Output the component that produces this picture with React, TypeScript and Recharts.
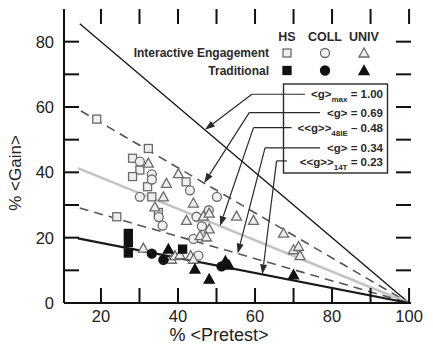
import React from 'react';
import { ComposedChart, XAxis, YAxis, Line, Scatter, ReferenceLine } from 'recharts';

const W = 433;
const H = 347;
const FONT = 'Arial, "Liberation Sans", sans-serif';

// plot frame inside the chart, from the margins and axis sizes below
const PLOT = { left: 64, top: 9, right: 411, bottom: 303 };
const TICK_LEN = 15;

const pretestTicks = [20, 30, 40, 50, 60, 70, 80, 90, 100];
const gainTicks = [0, 10, 20, 30, 40, 50, 60, 70, 80];
const pretestLabels = [20, 40, 60, 80, 100];
const gainLabels = [0, 20, 40, 60, 80];
const preDomain = [10.4, 100.5];
const gainDomain = [0, 90];

// normalized gain lines <g> and where each one starts on the left
const gValues = [1.0, 0.69, 0.48, 0.34, 0.23];
const gStartPre = [14.5, 14.8, 14, 14.5, 14];

// interactive engagement (open symbols)
const hsIE = [
  { pre: 18.9, gain: 56.3 }, { pre: 32.3, gain: 47.3 }, { pre: 28.2, gain: 44.3 },
  { pre: 30.1, gain: 40.7 }, { pre: 28.2, gain: 38.7 }, { pre: 32.1, gain: 35.6 },
  { pre: 33.2, gain: 32.5 }, { pre: 42.1, gain: 37.1 }, { pre: 24.1, gain: 26.4 },
  { pre: 34.9, gain: 27.7 },
];
const collIE = [
  { pre: 30.1, gain: 43.3 }, { pre: 33.2, gain: 39.4 }, { pre: 33.2, gain: 37.8 },
  { pre: 30.1, gain: 32.5 }, { pre: 43.1, gain: 34.5 }, { pre: 50.1, gain: 32.5 },
  { pre: 35.0, gain: 26.3 }, { pre: 36.0, gain: 23.7 }, { pre: 48.0, gain: 28.4 },
  { pre: 44.8, gain: 26.4 }, { pre: 46.2, gain: 23.5 }, { pre: 44.0, gain: 19.6 },
  { pre: 45.3, gain: 14.5 },
];
const univIE = [
  { pre: 32.3, gain: 42.8 }, { pre: 40.1, gain: 39.6 }, { pre: 37.0, gain: 36.6 },
  { pre: 36.2, gain: 32.5 }, { pre: 34.0, gain: 29.4 }, { pre: 44.0, gain: 30.6 },
  { pre: 42.2, gain: 25.3 }, { pre: 46.6, gain: 26.6 }, { pre: 48.1, gain: 27.5 },
  { pre: 48.1, gain: 22.7 }, { pre: 45.7, gain: 20.6 }, { pre: 47.4, gain: 20.2 },
  { pre: 55.2, gain: 26.6 }, { pre: 59.6, gain: 25.3 }, { pre: 67.4, gain: 21.4 },
  { pre: 70.0, gain: 16.3 }, { pre: 71.3, gain: 17.3 }, { pre: 71.7, gain: 14.5 },
  { pre: 31.0, gain: 16.8 }, { pre: 38.3, gain: 13.4 }, { pre: 39.2, gain: 14.5 },
  { pre: 40.5, gain: 14.8 }, { pre: 43.3, gain: 14.5 }, { pre: 44.0, gain: 13.4 },
];

// traditional (filled symbols)
const hsT = [
  { pre: 27.1, gain: 21.3 }, { pre: 27.1, gain: 18.5 }, { pre: 27.1, gain: 15.3 },
  { pre: 41.2, gain: 16.5 },
];
const collT = [
  { pre: 33.2, gain: 15.1 }, { pre: 36.2, gain: 13.2 }, { pre: 51.3, gain: 11.2 },
];
const univT = [
  { pre: 37.5, gain: 16.5 }, { pre: 44.4, gain: 10.4 }, { pre: 48.1, gain: 7.3 },
  { pre: 52.3, gain: 12.8 }, { pre: 53.2, gain: 11.6 }, { pre: 70.0, gain: 8.6 },
];

// leaders from the key box to the lines (index into gValues)
const leaderLine = [0, 1, 2, 3, 4];
const leaderTargetPre = [47, 46.8, 50.9, 55.5, 61.9];
const leaderBendPre = [59.2, 58.5, 59.6, 62.6, 65.6];
const leaderGain = [63.9, 58.3, 53.7, 47.5, 43.5];
const leaderLabelPre = [73.0, 76.9, 69.5, 76.9, 68.3];

const lineStyle = [
  { stroke: '#1a1a1a', width: 1.4, dash: undefined },
  { stroke: '#555', width: 1.6, dash: '9 6' },
  { stroke: '#c4c4c4', width: 2.6, dash: undefined },
  { stroke: '#555', width: 1.6, dash: '9 6' },
  { stroke: '#1a1a1a', width: 2.2, dash: undefined },
];

const OPEN_FILL = '#efefef';
const OPEN_STROKE = '#6b6b6b';
const SOLID = '#111';

function Sq({ cx, cy, open }: any) {
  const s = 8;
  return <rect x={cx - s / 2} y={cy - s / 2} width={s} height={s}
    fill={open ? OPEN_FILL : SOLID} stroke={open ? OPEN_STROKE : SOLID} strokeWidth={1.3} />;
}
function Ci({ cx, cy, open }: any) {
  return <circle cx={cx} cy={cy} r={4.5}
    fill={open ? OPEN_FILL : SOLID} stroke={open ? OPEN_STROKE : SOLID} strokeWidth={1.3} />;
}
function Tr({ cx, cy, open }: any) {
  const pts = `${cx},${cy - 5} ${cx - 5},${cy + 4} ${cx + 5},${cy + 4}`;
  return <polygon points={pts}
    fill={open ? OPEN_FILL : SOLID} stroke={open ? OPEN_STROKE : SOLID} strokeWidth={1.3} />;
}

function Leader({ x1, y1, x2, y2, arrow }: any) {
  if (!arrow) return <line x1={x1} y1={y1} x2={x2} y2={y2} stroke="#2a2a2a" strokeWidth={1.2} />;
  const dx = x2 - x1, dy = y2 - y1;
  const len = Math.sqrt(dx * dx + dy * dy) || 1;
  const ux = dx / len, uy = dy / len;
  const bx = x2 - ux * 10, by = y2 - uy * 10;
  const nx = -uy * 3.5, ny = ux * 3.5;
  return (
    <g>
      <line x1={x1} y1={y1} x2={bx} y2={by} stroke="#2a2a2a" strokeWidth={1.2} />
      <polygon points={`${x2},${y2} ${bx + nx},${by + ny} ${bx - nx},${by - ny}`} fill="#2a2a2a" />
    </g>
  );
}

const tickText = { fontSize: 16.5, fill: '#222', fontFamily: FONT };

function BottomLabel({ x, y, payload }: any) {
  const v = payload.value;
  if (!pretestLabels.includes(v)) return <g />;
  return <text x={x} y={y} dy="0.71em" textAnchor="middle" {...tickText}>{v}</text>;
}
function LeftLabel({ x, y, payload }: any) {
  const v = payload.value;
  if (!gainLabels.includes(v)) return <g />;
  return <text x={x} y={y} dy="0.355em" textAnchor="end" {...tickText}>{v}</text>;
}

const axisLine = { stroke: '#111', strokeWidth: 2 };

// same linear mapping as the chart axes, used only for the frame's tick marks
const px = (v: number) => PLOT.left + ((v - preDomain[0]) / (preDomain[1] - preDomain[0])) * (PLOT.right - PLOT.left);
const py = (v: number) => PLOT.bottom - ((v - gainDomain[0]) / (gainDomain[1] - gainDomain[0])) * (PLOT.bottom - PLOT.top);

function Sub({ main, sub, tail, x, y }: any) {
  return (
    <text x={x} y={y} textAnchor="end" fontFamily={FONT} fontSize={11.5} fontWeight="bold" fill="#2a2a2a">
      {main}
      {sub ? <tspan fontSize={8} dy={4}>{sub}</tspan> : null}
      <tspan dy={sub ? -4 : 0}>{tail}</tspan>
    </text>
  );
}

export default function App() {
  const gLines = gValues.map((g, i) => [
    { pre: gStartPre[i], gain: g * (100 - gStartPre[i]) },
    { pre: 100, gain: 0 },
  ]);

  return (
    <div style={{ position: 'absolute', left: 0, top: 0, width: W, height: H, background: '#fff' }}>
      <ComposedChart width={W} height={H}
        margin={{ top: PLOT.top, right: W - PLOT.right, bottom: 0, left: 0 }}>
        <XAxis dataKey="pre" type="number" domain={preDomain} allowDataOverflow
          ticks={pretestTicks} interval={0} height={H - PLOT.bottom} tickSize={0} tickMargin={7}
          tick={<BottomLabel />} axisLine={axisLine} tickLine={false} />
        <XAxis xAxisId="top" orientation="top" type="number" domain={preDomain} allowDataOverflow
          height={0} tick={false} axisLine={axisLine} tickLine={false} />
        <YAxis dataKey="gain" type="number" domain={gainDomain} allowDataOverflow
          ticks={gainTicks} interval={0} width={PLOT.left} tickSize={0} tickMargin={10}
          tick={<LeftLabel />} axisLine={axisLine} tickLine={false} />
        <YAxis yAxisId="right" orientation="right" type="number" domain={gainDomain} allowDataOverflow
          width={0} tick={false} axisLine={axisLine} tickLine={false} />

        {gLines.map((d, i) => (
          <Line key={'g' + i} data={d} dataKey="gain" type="linear" dot={false} activeDot={false}
            stroke={lineStyle[i].stroke} strokeWidth={lineStyle[i].width}
            strokeDasharray={lineStyle[i].dash} isAnimationActive={false} />
        ))}

        <Scatter data={hsIE} shape={(p: any) => <Sq cx={p.cx} cy={p.cy} open />} isAnimationActive={false} />
        <Scatter data={collIE} shape={(p: any) => <Ci cx={p.cx} cy={p.cy} open />} isAnimationActive={false} />
        <Scatter data={univIE} shape={(p: any) => <Tr cx={p.cx} cy={p.cy} open />} isAnimationActive={false} />
        <Scatter data={hsT} shape={(p: any) => <Sq cx={p.cx} cy={p.cy} />} isAnimationActive={false} />
        <Scatter data={collT} shape={(p: any) => <Ci cx={p.cx} cy={p.cy} />} isAnimationActive={false} />
        <Scatter data={univT} shape={(p: any) => <Tr cx={p.cx} cy={p.cy} />} isAnimationActive={false} />

        {leaderLine.map((li, i) => (
          <ReferenceLine key={'lh' + i}
            segment={[{ x: leaderLabelPre[i], y: leaderGain[i] }, { x: leaderBendPre[i], y: leaderGain[i] }]}
            shape={(p: any) => <Leader {...p} />} />
        ))}
        {leaderLine.map((li, i) => (
          <ReferenceLine key={'ld' + i}
            segment={[{ x: leaderBendPre[i], y: leaderGain[i] },
              { x: leaderTargetPre[i], y: gValues[li] * (100 - leaderTargetPre[i]) }]}
            shape={(p: any) => <Leader {...p} arrow />} />
        ))}
      </ComposedChart>

      <svg width={W} height={H} style={{ position: 'absolute', left: 0, top: 0, pointerEvents: 'none' }}>
        {/* inward tick marks on all four sides of the frame */}
        <g fill="#111">
          {pretestTicks.map((v) => (
            <rect key={'b' + v} x={px(v) - 1} y={PLOT.bottom - TICK_LEN} width={2} height={TICK_LEN} />
          ))}
          {pretestTicks.map((v) => (
            <rect key={'t' + v} x={px(v) - 1} y={PLOT.top} width={2} height={TICK_LEN} />
          ))}
          {gainTicks.map((v) => (
            <rect key={'l' + v} x={PLOT.left} y={py(v) - 1} width={TICK_LEN} height={2} />
          ))}
          {gainTicks.map((v) => (
            <rect key={'r' + v} x={PLOT.right - TICK_LEN} y={py(v) - 1} width={TICK_LEN} height={2} />
          ))}
        </g>

        {/* legend */}
        <g fontFamily={FONT} fontWeight="bold" fill="#2a2a2a">
          <text x={287} y={41} fontSize={12.5} textAnchor="middle">HS</text>
          <text x={325} y={41} fontSize={12.5} textAnchor="middle">COLL</text>
          <text x={364} y={41} fontSize={12.5} textAnchor="middle">UNIV</text>
          <text x={269} y={57} fontSize={12} textAnchor="end">Interactive Engagement</text>
          <text x={269} y={74.5} fontSize={12} textAnchor="end">Traditional</text>
        </g>
        <Sq cx={287} cy={53} open />
        <Ci cx={325} cy={53} open />
        <Tr cx={364} cy={53} open />
        <Sq cx={287} cy={70.5} />
        <Ci cx={325} cy={70.5} />
        <Tr cx={364} cy={70.5} />

        {/* key box */}
        <rect x={283.5} y={84} width={104} height={89} fill="none" stroke="#2a2a2a" strokeWidth={1.4} />
        <Sub x={383} y={98} main="<g>" sub="max" tail=" = 1.00" />
        <Sub x={383} y={117} main="<g> = 0.69" tail="" />
        <Sub x={383} y={131.5} main="<<g>>" sub="48IE" tail=" – 0.48" />
        <Sub x={383} y={152} main="<g> = 0.34" tail="" />
        <Sub x={383} y={165.5} main="<<g>>" sub="14T" tail=" = 0.23" />

        {/* axis titles */}
        <text x={219} y={341} textAnchor="middle" fontFamily={FONT} fontSize={18} fill="#222">% &lt;Pretest&gt;</text>
        <text x={0} y={0} transform="translate(21,173) rotate(-90)" textAnchor="middle"
          fontFamily={FONT} fontSize={17} fill="#222">% &lt;Gain&gt;</text>
      </svg>
    </div>
  );
}
